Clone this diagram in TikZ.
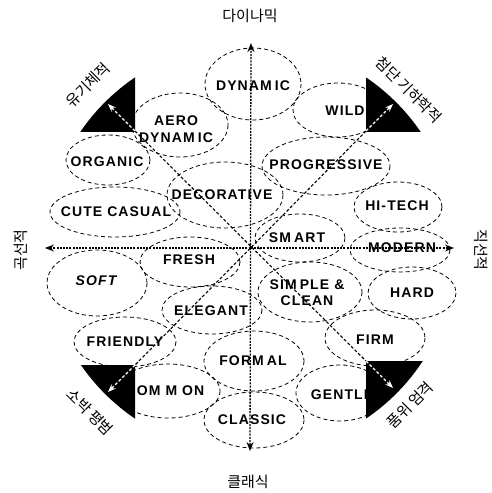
\documentclass[tikz,border=0pt]{standalone}
\usepackage{fontspec}
\setmainfont{Liberation Sans}
\newfontfamily\kr{Noto Sans CJK KR}
\newfontfamily\lab{Liberation Sans}[LetterSpace=8]
\usetikzlibrary{arrows.meta}
\newcommand\mgap{\hspace{3pt}}
\begin{document}
\begin{tikzpicture}[x=1pt,y=-1pt,
  blob/.style={draw, dash pattern=on 4pt off 3pt, line width=0.8pt},
  term/.style={font=\lab\bfseries\fontsize{14}{17}\selectfont, align=center, inner sep=0pt},
  axis/.style={line width=1.3pt, dash pattern=on 2pt off 1.2pt, -{Stealth[length=9pt,width=7pt]}},
  diag/.style={line width=1.1pt, dash pattern=on 3pt off 2pt},
  wdiag/.style={white, line width=1.1pt, dash pattern=on 3pt off 2pt, -{Stealth[length=8pt,width=6pt]}},
  kor/.style={font=\kr\fontsize{15}{16}\selectfont, inner sep=0pt}]
\useasboundingbox (0,0) rectangle (492,493);
\fill[white] (0,0) rectangle (492,493);
% ellipses
\draw[blob] (253,84) ellipse [x radius=48, y radius=36];
\draw[blob] (338,110) ellipse [x radius=45, y radius=27];
\draw[blob] (180,125) ellipse [x radius=48, y radius=32];
\draw[blob] (108,160) ellipse [x radius=42, y radius=25];
\draw[blob] (225,195) ellipse [x radius=58, y radius=33];
\draw[blob] (326,166) ellipse [x radius=64, y radius=29];
\draw[blob] (115,212) ellipse [x radius=65, y radius=25];
\draw[blob] (398,207) ellipse [x radius=44, y radius=25];
\draw[blob] (300,238) ellipse [x radius=45, y radius=24];
\draw[blob] (400,250) ellipse [x radius=50, y radius=22];
\draw[blob] (190,262) ellipse [x radius=50, y radius=25];
\draw[blob] (97,283) ellipse [x radius=50, y radius=33];
\draw[blob] (310,292) ellipse [x radius=52, y radius=30];
\draw[blob] (412,293) ellipse [x radius=44, y radius=26];
\draw[blob] (212,310) ellipse [x radius=50, y radius=24];
\draw[blob] (125,342) ellipse [x radius=51, y radius=25];
\draw[blob] (375,338) ellipse [x radius=50, y radius=28];
\draw[blob] (254,361) ellipse [x radius=50, y radius=30];
\draw[blob] (168,391) ellipse [x radius=52, y radius=27];
\draw[blob] (340,393) ellipse [x radius=44, y radius=28];
\draw[blob] (254,420) ellipse [x radius=50, y radius=28];
% axes
\coordinate (c) at (250.5,248);
\coordinate (up) at (251,43);
\coordinate (down) at (250,451);
\coordinate (left) at (45,248);
\coordinate (right) at (454,248);
\draw[axis] (c) -- (up);
\draw[axis] (c) -- (down);
\draw[axis] (c) -- (left);
\draw[axis] (c) -- (right);
% diagonals
\coordinate (tlc) at (135,131);
\coordinate (trc) at (366,131);
\coordinate (blc) at (135,365);
\coordinate (brc) at (366,361);
\coordinate (tlt) at (108,104);
\coordinate (trt) at (393,104);
\coordinate (blt) at (108,392);
\coordinate (brt) at (393,388);
\draw[diag] (tlc) -- (brc);
\draw[diag] (trc) -- (blc);
% terms
\node[term] (dynamic) at (253,86) {DYNAM\mgap IC};
\node[term] (wild) at (345,111) {WILD};
\node[term] (aero) at (176,129) {AERO\\DYNAM\mgap IC};
\node[term] (organic) at (107,162) {ORGANIC};
\node[term] (decorative) at (222,195) {DECORATIVE};
\node[term] (progressive) at (326,165) {PROGRESSIVE};
\node[term] (cute) at (116,212) {CUTE CASUAL};
\node[term] (hitech) at (397,206) {HI-TECH};
\node[term] (smart) at (297,238) {SM\mgap ART};
\node[term] (modern) at (402,248) {MODERN};
\node[term] (fresh) at (189,260) {FRESH};
\node[term, font=\lab\bfseries\itshape\fontsize{14}{17}\selectfont] (soft) at (96,281) {SOFT};
\node[term, font=\lab\bfseries\fontsize{14}{16}\selectfont] (simple) at (307,293) {SIM\mgap PLE \&\\CLEAN};
\node[term] (hard) at (412,293) {HARD};
\node[term] (elegant) at (211,311) {ELEGANT};
\node[term] (friendly) at (125,342) {FRIENDLY};
\node[term] (firm) at (375,340) {FIRM};
\node[term] (formal) at (253,361) {FORM\mgap AL};
\node[term] (common) at (165,391) {COM\hspace{5pt}M\hspace{5pt}ON};
\node[term] (gentle) at (342,395) {GENTLE};
\node[term] (classic) at (252,420) {CLASSIC};
% corner triangles
\begin{scope}
\clip (0,0) rectangle (tlc);
\fill (c) circle (206);
\end{scope}
\begin{scope}
\clip (trc) rectangle (492,0);
\fill (c) circle (206);
\end{scope}
\begin{scope}
\clip (blc) rectangle (0,493);
\fill (c) circle (206);
\end{scope}
\begin{scope}
\clip (brc) rectangle (492,493);
\fill (c) circle (206);
\end{scope}
\draw[wdiag] (tlc) -- (tlt);
\draw[wdiag] (trc) -- (trt);
\draw[wdiag] (blc) -- (blt);
\draw[wdiag] (brc) -- (brt);
% korean labels
\node[kor] (ktop) at (250,16) {다이나믹};
\node[kor] (kbot) at (248,482) {클래식};
\node[kor, rotate=90] (kleft) at (21,250) {곡선적};
\node[kor, rotate=-90] (kright) at (481,250) {직선적};
\node[kor, rotate=45] (ktl) at (88,85) {유기체적};
\node[kor, rotate=-45] (ktr) at (409,90) {첨단 기하학적};
\node[kor, rotate=-45] (kbl) at (90,412) {소박 평범};
\node[kor, rotate=45] (kbr) at (410,405) {품위 엄격};
\end{tikzpicture}
\end{document}
